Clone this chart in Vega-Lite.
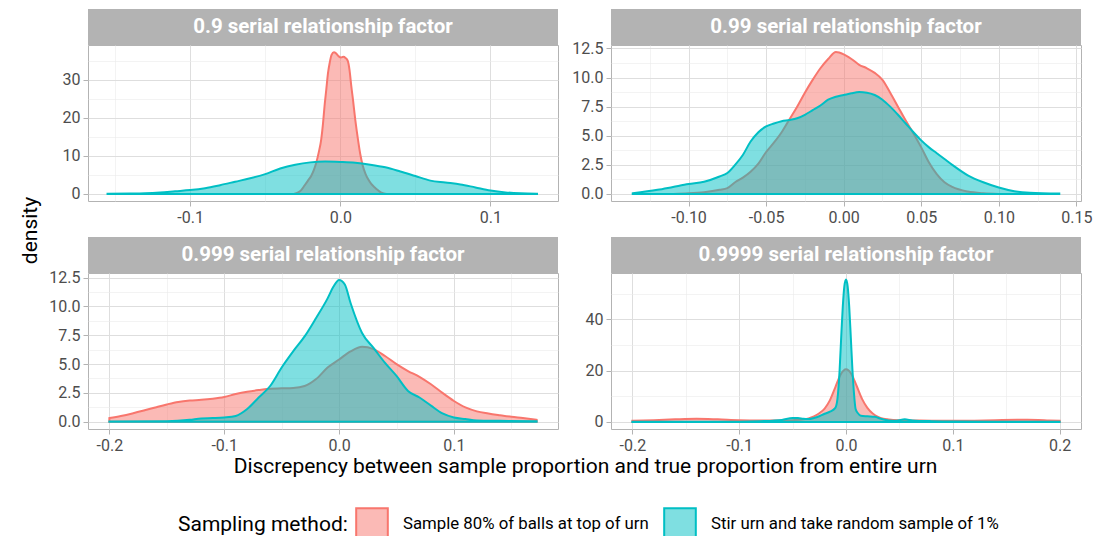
{
  "$schema": "https://vega.github.io/schema/vega-lite/v6.json",
  "padding": {"left": 18, "top": 9, "right": 0, "bottom": 0},
  "background": "white",
  "datasets": {
    "dens": [
      {"f":"0.9","m":"top","x":-0.031,"y":0},{"f":"0.9","m":"top","x":-0.028,"y":0.4},{"f":"0.9","m":"top","x":-0.026,"y":1.0},{"f":"0.9","m":"top","x":-0.0238,"y":2.2},{"f":"0.9","m":"top","x":-0.0215,"y":3.5},{"f":"0.9","m":"top","x":-0.0193,"y":4.8},{"f":"0.9","m":"top","x":-0.0175,"y":6.4},{"f":"0.9","m":"top","x":-0.016,"y":8.2},{"f":"0.9","m":"top","x":-0.0143,"y":11},{"f":"0.9","m":"top","x":-0.0127,"y":14.3},{"f":"0.9","m":"top","x":-0.0115,"y":18.5},{"f":"0.9","m":"top","x":-0.0105,"y":23},{"f":"0.9","m":"top","x":-0.0093,"y":27.5},{"f":"0.9","m":"top","x":-0.0082,"y":31.7},{"f":"0.9","m":"top","x":-0.007,"y":34.6},{"f":"0.9","m":"top","x":-0.0058,"y":36.6},{"f":"0.9","m":"top","x":-0.0042,"y":37.3},{"f":"0.9","m":"top","x":-0.0028,"y":37.0},{"f":"0.9","m":"top","x":-0.001,"y":36.2},{"f":"0.9","m":"top","x":0.0005,"y":35.9},{"f":"0.9","m":"top","x":0.002,"y":36.1},{"f":"0.9","m":"top","x":0.0035,"y":35.8},{"f":"0.9","m":"top","x":0.005,"y":35.0},{"f":"0.9","m":"top","x":0.0062,"y":32.5},{"f":"0.9","m":"top","x":0.0073,"y":28.5},{"f":"0.9","m":"top","x":0.0085,"y":24.7},{"f":"0.9","m":"top","x":0.01,"y":19.5},{"f":"0.9","m":"top","x":0.0118,"y":14.3},{"f":"0.9","m":"top","x":0.0133,"y":10.5},{"f":"0.9","m":"top","x":0.015,"y":7.4},{"f":"0.9","m":"top","x":0.0168,"y":5.3},{"f":"0.9","m":"top","x":0.0185,"y":3.9},{"f":"0.9","m":"top","x":0.0205,"y":2.7},{"f":"0.9","m":"top","x":0.023,"y":1.7},{"f":"0.9","m":"top","x":0.025,"y":1.0},{"f":"0.9","m":"top","x":0.027,"y":0.4},{"f":"0.9","m":"top","x":0.029,"y":0.1},{"f":"0.9","m":"top","x":0.031,"y":0},
      {"f":"0.9","m":"stir","x":-0.155,"y":0.02},{"f":"0.9","m":"stir","x":-0.14,"y":0.1},{"f":"0.9","m":"stir","x":-0.13,"y":0.2},{"f":"0.9","m":"stir","x":-0.12,"y":0.4},{"f":"0.9","m":"stir","x":-0.11,"y":0.7},{"f":"0.9","m":"stir","x":-0.1,"y":1.0},{"f":"0.9","m":"stir","x":-0.09,"y":1.5},{"f":"0.9","m":"stir","x":-0.08,"y":2.3},{"f":"0.9","m":"stir","x":-0.07,"y":3.2},{"f":"0.9","m":"stir","x":-0.06,"y":4.1},{"f":"0.9","m":"stir","x":-0.05,"y":5.2},{"f":"0.9","m":"stir","x":-0.04,"y":6.7},{"f":"0.9","m":"stir","x":-0.03,"y":7.7},{"f":"0.9","m":"stir","x":-0.02,"y":8.3},{"f":"0.9","m":"stir","x":-0.01,"y":8.5},{"f":"0.9","m":"stir","x":0,"y":8.4},{"f":"0.9","m":"stir","x":0.01,"y":8.2},{"f":"0.9","m":"stir","x":0.02,"y":7.7},{"f":"0.9","m":"stir","x":0.03,"y":7.0},{"f":"0.9","m":"stir","x":0.04,"y":5.9},{"f":"0.9","m":"stir","x":0.05,"y":4.7},{"f":"0.9","m":"stir","x":0.06,"y":3.5},{"f":"0.9","m":"stir","x":0.07,"y":3.0},{"f":"0.9","m":"stir","x":0.08,"y":2.5},{"f":"0.9","m":"stir","x":0.09,"y":1.7},{"f":"0.9","m":"stir","x":0.1,"y":0.9},{"f":"0.9","m":"stir","x":0.11,"y":0.4},{"f":"0.9","m":"stir","x":0.12,"y":0.15},{"f":"0.9","m":"stir","x":0.131,"y":0.05},
      {"f":"0.99","m":"top","x":-0.11,"y":0},{"f":"0.99","m":"top","x":-0.1,"y":0.05},{"f":"0.99","m":"top","x":-0.09,"y":0.15},{"f":"0.99","m":"top","x":-0.08,"y":0.35},{"f":"0.99","m":"top","x":-0.075,"y":0.5},{"f":"0.99","m":"top","x":-0.07,"y":1.0},{"f":"0.99","m":"top","x":-0.065,"y":1.4},{"f":"0.99","m":"top","x":-0.06,"y":1.9},{"f":"0.99","m":"top","x":-0.055,"y":2.6},{"f":"0.99","m":"top","x":-0.05,"y":3.6},{"f":"0.99","m":"top","x":-0.045,"y":4.4},{"f":"0.99","m":"top","x":-0.04,"y":5.3},{"f":"0.99","m":"top","x":-0.035,"y":6.4},{"f":"0.99","m":"top","x":-0.03,"y":7.5},{"f":"0.99","m":"top","x":-0.025,"y":8.7},{"f":"0.99","m":"top","x":-0.02,"y":9.8},{"f":"0.99","m":"top","x":-0.015,"y":10.8},{"f":"0.99","m":"top","x":-0.01,"y":11.6},{"f":"0.99","m":"top","x":-0.005,"y":12.2},{"f":"0.99","m":"top","x":0,"y":12.0},{"f":"0.99","m":"top","x":0.005,"y":11.6},{"f":"0.99","m":"top","x":0.01,"y":11.1},{"f":"0.99","m":"top","x":0.015,"y":10.8},{"f":"0.99","m":"top","x":0.02,"y":10.4},{"f":"0.99","m":"top","x":0.025,"y":9.8},{"f":"0.99","m":"top","x":0.03,"y":8.7},{"f":"0.99","m":"top","x":0.035,"y":7.5},{"f":"0.99","m":"top","x":0.04,"y":6.3},{"f":"0.99","m":"top","x":0.045,"y":5.2},{"f":"0.99","m":"top","x":0.05,"y":4.0},{"f":"0.99","m":"top","x":0.055,"y":2.7},{"f":"0.99","m":"top","x":0.06,"y":1.7},{"f":"0.99","m":"top","x":0.065,"y":1.0},{"f":"0.99","m":"top","x":0.07,"y":0.6},{"f":"0.99","m":"top","x":0.08,"y":0.2},{"f":"0.99","m":"top","x":0.09,"y":0.05},{"f":"0.99","m":"top","x":0.1,"y":0},
      {"f":"0.99","m":"stir","x":-0.136,"y":0.05},{"f":"0.99","m":"stir","x":-0.12,"y":0.35},{"f":"0.99","m":"stir","x":-0.11,"y":0.6},{"f":"0.99","m":"stir","x":-0.1,"y":0.85},{"f":"0.99","m":"stir","x":-0.09,"y":1.05},{"f":"0.99","m":"stir","x":-0.08,"y":1.5},{"f":"0.99","m":"stir","x":-0.075,"y":1.8},{"f":"0.99","m":"stir","x":-0.07,"y":2.5},{"f":"0.99","m":"stir","x":-0.065,"y":3.35},{"f":"0.99","m":"stir","x":-0.06,"y":4.5},{"f":"0.99","m":"stir","x":-0.055,"y":5.3},{"f":"0.99","m":"stir","x":-0.05,"y":5.8},{"f":"0.99","m":"stir","x":-0.045,"y":6.05},{"f":"0.99","m":"stir","x":-0.04,"y":6.25},{"f":"0.99","m":"stir","x":-0.035,"y":6.35},{"f":"0.99","m":"stir","x":-0.03,"y":6.5},{"f":"0.99","m":"stir","x":-0.025,"y":6.8},{"f":"0.99","m":"stir","x":-0.02,"y":7.2},{"f":"0.99","m":"stir","x":-0.015,"y":7.6},{"f":"0.99","m":"stir","x":-0.01,"y":8.1},{"f":"0.99","m":"stir","x":-0.005,"y":8.35},{"f":"0.99","m":"stir","x":0,"y":8.5},{"f":"0.99","m":"stir","x":0.005,"y":8.65},{"f":"0.99","m":"stir","x":0.01,"y":8.75},{"f":"0.99","m":"stir","x":0.015,"y":8.7},{"f":"0.99","m":"stir","x":0.02,"y":8.5},{"f":"0.99","m":"stir","x":0.025,"y":8.1},{"f":"0.99","m":"stir","x":0.03,"y":7.5},{"f":"0.99","m":"stir","x":0.035,"y":6.8},{"f":"0.99","m":"stir","x":0.04,"y":6.05},{"f":"0.99","m":"stir","x":0.045,"y":5.3},{"f":"0.99","m":"stir","x":0.05,"y":4.6},{"f":"0.99","m":"stir","x":0.055,"y":4.0},{"f":"0.99","m":"stir","x":0.06,"y":3.5},{"f":"0.99","m":"stir","x":0.065,"y":3.0},{"f":"0.99","m":"stir","x":0.07,"y":2.5},{"f":"0.99","m":"stir","x":0.08,"y":1.6},{"f":"0.99","m":"stir","x":0.09,"y":1.0},{"f":"0.99","m":"stir","x":0.1,"y":0.55},{"f":"0.99","m":"stir","x":0.11,"y":0.23},{"f":"0.99","m":"stir","x":0.12,"y":0.1},{"f":"0.99","m":"stir","x":0.139,"y":0.03},
      {"f":"0.999","m":"top","x":-0.2,"y":0.32},{"f":"0.999","m":"top","x":-0.19,"y":0.5},{"f":"0.999","m":"top","x":-0.18,"y":0.72},{"f":"0.999","m":"top","x":-0.17,"y":0.97},{"f":"0.999","m":"top","x":-0.16,"y":1.24},{"f":"0.999","m":"top","x":-0.15,"y":1.5},{"f":"0.999","m":"top","x":-0.14,"y":1.72},{"f":"0.999","m":"top","x":-0.13,"y":1.84},{"f":"0.999","m":"top","x":-0.12,"y":1.9},{"f":"0.999","m":"top","x":-0.11,"y":2.0},{"f":"0.999","m":"top","x":-0.1,"y":2.15},{"f":"0.999","m":"top","x":-0.09,"y":2.4},{"f":"0.999","m":"top","x":-0.08,"y":2.6},{"f":"0.999","m":"top","x":-0.07,"y":2.75},{"f":"0.999","m":"top","x":-0.06,"y":2.87},{"f":"0.999","m":"top","x":-0.05,"y":2.9},{"f":"0.999","m":"top","x":-0.04,"y":2.93},{"f":"0.999","m":"top","x":-0.03,"y":3.1},{"f":"0.999","m":"top","x":-0.02,"y":3.7},{"f":"0.999","m":"top","x":-0.01,"y":4.7},{"f":"0.999","m":"top","x":0,"y":5.4},{"f":"0.999","m":"top","x":0.01,"y":6.1},{"f":"0.999","m":"top","x":0.02,"y":6.5},{"f":"0.999","m":"top","x":0.03,"y":6.3},{"f":"0.999","m":"top","x":0.04,"y":5.7},{"f":"0.999","m":"top","x":0.05,"y":5.0},{"f":"0.999","m":"top","x":0.06,"y":4.4},{"f":"0.999","m":"top","x":0.07,"y":3.9},{"f":"0.999","m":"top","x":0.08,"y":3.25},{"f":"0.999","m":"top","x":0.09,"y":2.5},{"f":"0.999","m":"top","x":0.1,"y":1.8},{"f":"0.999","m":"top","x":0.11,"y":1.24},{"f":"0.999","m":"top","x":0.12,"y":0.9},{"f":"0.999","m":"top","x":0.13,"y":0.72},{"f":"0.999","m":"top","x":0.14,"y":0.57},{"f":"0.999","m":"top","x":0.15,"y":0.43},{"f":"0.999","m":"top","x":0.16,"y":0.32},{"f":"0.999","m":"top","x":0.172,"y":0.17},
      {"f":"0.999","m":"stir","x":-0.2,"y":0.02},{"f":"0.999","m":"stir","x":-0.15,"y":0.05},{"f":"0.999","m":"stir","x":-0.13,"y":0.17},{"f":"0.999","m":"stir","x":-0.12,"y":0.29},{"f":"0.999","m":"stir","x":-0.11,"y":0.32},{"f":"0.999","m":"stir","x":-0.1,"y":0.37},{"f":"0.999","m":"stir","x":-0.09,"y":0.5},{"f":"0.999","m":"stir","x":-0.08,"y":1.1},{"f":"0.999","m":"stir","x":-0.07,"y":2.1},{"f":"0.999","m":"stir","x":-0.06,"y":3.1},{"f":"0.999","m":"stir","x":-0.05,"y":4.7},{"f":"0.999","m":"stir","x":-0.04,"y":6.1},{"f":"0.999","m":"stir","x":-0.03,"y":7.4},{"f":"0.999","m":"stir","x":-0.02,"y":9.0},{"f":"0.999","m":"stir","x":-0.01,"y":10.7},{"f":"0.999","m":"stir","x":-0.005,"y":11.7},{"f":"0.999","m":"stir","x":0,"y":12.3},{"f":"0.999","m":"stir","x":0.005,"y":11.9},{"f":"0.999","m":"stir","x":0.01,"y":10.3},{"f":"0.999","m":"stir","x":0.02,"y":7.7},{"f":"0.999","m":"stir","x":0.03,"y":6.4},{"f":"0.999","m":"stir","x":0.04,"y":5.1},{"f":"0.999","m":"stir","x":0.05,"y":3.97},{"f":"0.999","m":"stir","x":0.06,"y":2.67},{"f":"0.999","m":"stir","x":0.07,"y":2.1},{"f":"0.999","m":"stir","x":0.08,"y":1.4},{"f":"0.999","m":"stir","x":0.09,"y":0.72},{"f":"0.999","m":"stir","x":0.1,"y":0.37},{"f":"0.999","m":"stir","x":0.11,"y":0.23},{"f":"0.999","m":"stir","x":0.12,"y":0.11},{"f":"0.999","m":"stir","x":0.14,"y":0.08},{"f":"0.999","m":"stir","x":0.172,"y":0.05},
      {"f":"0.9999","m":"top","x":-0.2,"y":0.5},{"f":"0.9999","m":"top","x":-0.18,"y":0.7},{"f":"0.9999","m":"top","x":-0.16,"y":1.0},{"f":"0.9999","m":"top","x":-0.14,"y":1.2},{"f":"0.9999","m":"top","x":-0.12,"y":1.0},{"f":"0.9999","m":"top","x":-0.1,"y":0.7},{"f":"0.9999","m":"top","x":-0.08,"y":0.6},{"f":"0.9999","m":"top","x":-0.06,"y":0.6},{"f":"0.9999","m":"top","x":-0.05,"y":0.7},{"f":"0.9999","m":"top","x":-0.04,"y":1.0},{"f":"0.9999","m":"top","x":-0.035,"y":1.4},{"f":"0.9999","m":"top","x":-0.03,"y":2.2},{"f":"0.9999","m":"top","x":-0.025,"y":3.4},{"f":"0.9999","m":"top","x":-0.02,"y":5.2},{"f":"0.9999","m":"top","x":-0.015,"y":8.5},{"f":"0.9999","m":"top","x":-0.01,"y":13.5},{"f":"0.9999","m":"top","x":-0.005,"y":18.5},{"f":"0.9999","m":"top","x":0,"y":20.5},{"f":"0.9999","m":"top","x":0.005,"y":18.7},{"f":"0.9999","m":"top","x":0.01,"y":14},{"f":"0.9999","m":"top","x":0.015,"y":9.0},{"f":"0.9999","m":"top","x":0.02,"y":5.5},{"f":"0.9999","m":"top","x":0.025,"y":3.3},{"f":"0.9999","m":"top","x":0.03,"y":2.0},{"f":"0.9999","m":"top","x":0.035,"y":1.3},{"f":"0.9999","m":"top","x":0.04,"y":1.0},{"f":"0.9999","m":"top","x":0.05,"y":0.7},{"f":"0.9999","m":"top","x":0.06,"y":0.6},{"f":"0.9999","m":"top","x":0.08,"y":0.5},{"f":"0.9999","m":"top","x":0.1,"y":0.45},{"f":"0.9999","m":"top","x":0.12,"y":0.5},{"f":"0.9999","m":"top","x":0.14,"y":0.65},{"f":"0.9999","m":"top","x":0.16,"y":0.85},{"f":"0.9999","m":"top","x":0.17,"y":0.9},{"f":"0.9999","m":"top","x":0.18,"y":0.8},{"f":"0.9999","m":"top","x":0.19,"y":0.6},{"f":"0.9999","m":"top","x":0.2,"y":0.45},
      {"f":"0.9999","m":"stir","x":-0.2,"y":0.05},{"f":"0.9999","m":"stir","x":-0.15,"y":0.05},{"f":"0.9999","m":"stir","x":-0.1,"y":0.1},{"f":"0.9999","m":"stir","x":-0.08,"y":0.3},{"f":"0.9999","m":"stir","x":-0.06,"y":0.8},{"f":"0.9999","m":"stir","x":-0.05,"y":1.5},{"f":"0.9999","m":"stir","x":-0.045,"y":1.5},{"f":"0.9999","m":"stir","x":-0.04,"y":1.2},{"f":"0.9999","m":"stir","x":-0.035,"y":1.1},{"f":"0.9999","m":"stir","x":-0.03,"y":1.5},{"f":"0.9999","m":"stir","x":-0.025,"y":2.2},{"f":"0.9999","m":"stir","x":-0.02,"y":3.2},{"f":"0.9999","m":"stir","x":-0.015,"y":4.0},{"f":"0.9999","m":"stir","x":-0.01,"y":5.5},{"f":"0.9999","m":"stir","x":-0.008,"y":9},{"f":"0.9999","m":"stir","x":-0.006,"y":20},{"f":"0.9999","m":"stir","x":-0.0045,"y":33},{"f":"0.9999","m":"stir","x":-0.003,"y":45},{"f":"0.9999","m":"stir","x":-0.0015,"y":53},{"f":"0.9999","m":"stir","x":0,"y":55.5},{"f":"0.9999","m":"stir","x":0.0015,"y":53},{"f":"0.9999","m":"stir","x":0.003,"y":45},{"f":"0.9999","m":"stir","x":0.0045,"y":33},{"f":"0.9999","m":"stir","x":0.006,"y":20.5},{"f":"0.9999","m":"stir","x":0.0075,"y":11},{"f":"0.9999","m":"stir","x":0.009,"y":5},{"f":"0.9999","m":"stir","x":0.011,"y":3.5},{"f":"0.9999","m":"stir","x":0.014,"y":2.4},{"f":"0.9999","m":"stir","x":0.02,"y":2.2},{"f":"0.9999","m":"stir","x":0.027,"y":2.0},{"f":"0.9999","m":"stir","x":0.033,"y":1.2},{"f":"0.9999","m":"stir","x":0.04,"y":0.6},{"f":"0.9999","m":"stir","x":0.047,"y":0.5},{"f":"0.9999","m":"stir","x":0.055,"y":1.0},{"f":"0.9999","m":"stir","x":0.062,"y":0.6},{"f":"0.9999","m":"stir","x":0.08,"y":0.3},{"f":"0.9999","m":"stir","x":0.1,"y":0.2},{"f":"0.9999","m":"stir","x":0.15,"y":0.1},{"f":"0.9999","m":"stir","x":0.2,"y":0.05}
    ]
  },
  "config": {
    "font": "Roboto",
    "view": {"stroke": "#B3B3B3", "strokeWidth": 1},
    "axis": {"domain": false, "labelFont": "Roboto", "labelFontSize": 16, "labelColor": "#4D4D4D", "tickSize": 5, "tickColor": "#B3B3B3", "labelPadding": 3, "titleFont": "Roboto", "titleFontSize": 21, "titleFontWeight": "normal", "titleColor": "#000000"},
    "legend": {"orient": "none", "legendX": 90, "legendY": 498, "direction": "horizontal", "titleOrient": "left", "titleAnchor": "middle", "titleBaseline": "middle", "titleFont": "Roboto", "titleFontSize": 21, "titleFontWeight": "normal", "titleColor": "#000000", "labelFont": "Roboto", "labelFontSize": 16.8, "labelColor": "#000000", "labelLimit": 0, "symbolType": "square", "symbolSize": 1000, "symbolStrokeWidth": 2, "labelOffset": 14, "columnPadding": 11, "titlePadding": 7}
  },
  "bounds": "flush",
  "columns": 2,
  "spacing": {"row": 0, "column": 53},
  "concat": [
    {"width": 470, "height": 36, "data": {"values": [{"label": "0.9 serial relationship factor"}]}, "mark": {"type": "text", "color": "white", "fontWeight": "bold", "fontSize": 20.5, "font": "Roboto"}, "encoding": {"text": {"field": "label"}}, "view": {"fill": "#B3B3B3", "stroke": null}},
    {"width": 470, "height": 36, "data": {"values": [{"label": "0.99 serial relationship factor"}]}, "mark": {"type": "text", "color": "white", "fontWeight": "bold", "fontSize": 20.5, "font": "Roboto"}, "encoding": {"text": {"field": "label"}}, "view": {"fill": "#B3B3B3", "stroke": null}},
    {
      "width": 470, "height": 156,
      "data": {"name": "dens"},
      "transform": [{"filter": "datum.f == '0.9'"}],
      "encoding": {
        "x": {"field": "x", "type": "quantitative", "scale": {"domain": [-0.168, 0.145], "nice": false, "zero": false},
          "axis": {"title": null, "values": [-0.15,-0.1,-0.05,0,0.05,0.1],
            "labelExpr": "indexof([-0.15,-0.05,0.05], datum.value) >= 0 ? '' : replace(format(datum.value, '.1f'), '\u2212', '-')",
            "gridColor": {"condition": {"test": "indexof([-0.15,-0.05,0.05], datum.value) >= 0", "value": "#EBEBEB"}, "value": "#DEDEDE"},
            "gridWidth": {"condition": {"test": "indexof([-0.15,-0.05,0.05], datum.value) >= 0", "value": 0.6}, "value": 1},
            "tickOpacity": {"condition": {"test": "indexof([-0.15,-0.05,0.05], datum.value) >= 0", "value": 0}, "value": 1}}},
        "y": {"field": "y", "type": "quantitative", "stack": null, "scale": {"domain": [-1.87, 39.2], "nice": false, "zero": false},
          "axis": {"title": "density", "titleX": -48, "titleY": 185, "titleAlign": "center", "values": [0,5,10,15,20,25,30,35],
            "labelExpr": "indexof([5,15,25,35], datum.value) >= 0 ? '' : format(datum.value, 'd')",
            "gridColor": {"condition": {"test": "indexof([5,15,25,35], datum.value) >= 0", "value": "#EBEBEB"}, "value": "#DEDEDE"},
            "gridWidth": {"condition": {"test": "indexof([5,15,25,35], datum.value) >= 0", "value": 0.6}, "value": 1},
            "tickOpacity": {"condition": {"test": "indexof([5,15,25,35], datum.value) >= 0", "value": 0}, "value": 1}}},
        "fill": {"field": "m", "type": "nominal", "scale": {"domain": ["top", "stir"], "range": ["#F8766D", "#00BFC4"]}, "legend": {"title": "Sampling method:", "labelExpr": "datum.value == 'top' ? 'Sample 80% of balls at top of urn' : 'Stir urn and take random sample of 1%'", "encode": {"symbols": {"update": {"fillOpacity": {"value": 0.5}}}}}},
        "stroke": {"field": "m", "type": "nominal", "scale": {"domain": ["top", "stir"], "range": ["#F8766D", "#00BFC4"]}, "legend": {"title": "Sampling method:", "labelExpr": "datum.value == 'top' ? 'Sample 80% of balls at top of urn' : 'Stir urn and take random sample of 1%'", "encode": {"symbols": {"update": {"fillOpacity": {"value": 0.5}}}}}}
      },
      "layer": [
        {"transform": [{"filter": "datum.m == 'top'"}], "mark": {"type": "area", "fillOpacity": 0.5, "strokeWidth": 2, "interpolate": "monotone"}},
        {"transform": [{"filter": "datum.m == 'stir'"}], "mark": {"type": "area", "fillOpacity": 0.5, "strokeWidth": 2, "interpolate": "monotone"}}
      ]
    },
    {
      "width": 470, "height": 156,
      "data": {"name": "dens"},
      "transform": [{"filter": "datum.f == '0.99'"}],
      "encoding": {
        "x": {"field": "x", "type": "quantitative", "scale": {"domain": [-0.150, 0.153], "nice": false, "zero": false},
          "axis": {"title": null, "values": [-0.125,-0.1,-0.075,-0.05,-0.025,0,0.025,0.05,0.075,0.1,0.125,0.15],
            "labelExpr": "indexof([-0.125,-0.075,-0.025,0.025,0.075,0.125], datum.value) >= 0 ? '' : replace(format(datum.value, '.2f'), '\u2212', '-')",
            "gridColor": {"condition": {"test": "indexof([-0.125,-0.075,-0.025,0.025,0.075,0.125], datum.value) >= 0", "value": "#EBEBEB"}, "value": "#DEDEDE"},
            "gridWidth": {"condition": {"test": "indexof([-0.125,-0.075,-0.025,0.025,0.075,0.125], datum.value) >= 0", "value": 0.6}, "value": 1},
            "tickOpacity": {"condition": {"test": "indexof([-0.125,-0.075,-0.025,0.025,0.075,0.125], datum.value) >= 0", "value": 0}, "value": 1}}},
        "y": {"field": "y", "type": "quantitative", "stack": null, "scale": {"domain": [-0.61, 12.8], "nice": false, "zero": false},
          "axis": {"title": null, "values": [0,1.25,2.5,3.75,5,6.25,7.5,8.75,10,11.25,12.5],
            "labelExpr": "indexof([1.25,3.75,6.25,8.75,11.25], datum.value) >= 0 ? '' : format(datum.value, '.1f')",
            "gridColor": {"condition": {"test": "indexof([1.25,3.75,6.25,8.75,11.25], datum.value) >= 0", "value": "#EBEBEB"}, "value": "#DEDEDE"},
            "gridWidth": {"condition": {"test": "indexof([1.25,3.75,6.25,8.75,11.25], datum.value) >= 0", "value": 0.6}, "value": 1},
            "tickOpacity": {"condition": {"test": "indexof([1.25,3.75,6.25,8.75,11.25], datum.value) >= 0", "value": 0}, "value": 1}}},
        "fill": {"field": "m", "type": "nominal", "scale": {"domain": ["top", "stir"], "range": ["#F8766D", "#00BFC4"]}, "legend": {"title": "Sampling method:", "labelExpr": "datum.value == 'top' ? 'Sample 80% of balls at top of urn' : 'Stir urn and take random sample of 1%'", "encode": {"symbols": {"update": {"fillOpacity": {"value": 0.5}}}}}},
        "stroke": {"field": "m", "type": "nominal", "scale": {"domain": ["top", "stir"], "range": ["#F8766D", "#00BFC4"]}, "legend": {"title": "Sampling method:", "labelExpr": "datum.value == 'top' ? 'Sample 80% of balls at top of urn' : 'Stir urn and take random sample of 1%'", "encode": {"symbols": {"update": {"fillOpacity": {"value": 0.5}}}}}}
      },
      "layer": [
        {"transform": [{"filter": "datum.m == 'top'"}], "mark": {"type": "area", "fillOpacity": 0.5, "strokeWidth": 2, "interpolate": "monotone"}},
        {"transform": [{"filter": "datum.m == 'stir'"}], "mark": {"type": "area", "fillOpacity": 0.5, "strokeWidth": 2, "interpolate": "monotone"}}
      ]
    },
    {"width": 470, "height": 36, "data": {"values": []}, "mark": {"type": "text", "text": ""}, "encoding": {}, "view": {"stroke": null}},
    {"width": 470, "height": 36, "data": {"values": []}, "mark": {"type": "text", "text": ""}, "encoding": {}, "view": {"stroke": null}},
    {"width": 470, "height": 36, "data": {"values": [{"label": "0.999 serial relationship factor"}]}, "mark": {"type": "text", "color": "white", "fontWeight": "bold", "fontSize": 20.5, "font": "Roboto"}, "encoding": {"text": {"field": "label"}}, "view": {"fill": "#B3B3B3", "stroke": null}},
    {"width": 470, "height": 36, "data": {"values": [{"label": "0.9999 serial relationship factor"}]}, "mark": {"type": "text", "color": "white", "fontWeight": "bold", "fontSize": 20.5, "font": "Roboto"}, "encoding": {"text": {"field": "label"}}, "view": {"fill": "#B3B3B3", "stroke": null}},
    {
      "width": 470, "height": 156,
      "data": {"name": "dens"},
      "transform": [{"filter": "datum.f == '0.999'"}],
      "encoding": {
        "x": {"field": "x", "type": "quantitative", "scale": {"domain": [-0.2186, 0.1906], "nice": false, "zero": false},
          "axis": {"title": "Discrepency between sample proportion and true proportion from entire urn", "titleX": 497, "titleY": 26, "titleAlign": "center", "titleBaseline": "top", "values": [-0.2,-0.15,-0.1,-0.05,0,0.05,0.1,0.15],
            "labelExpr": "indexof([-0.15,-0.05,0.05,0.15], datum.value) >= 0 ? '' : replace(format(datum.value, '.1f'), '\u2212', '-')",
            "gridColor": {"condition": {"test": "indexof([-0.15,-0.05,0.05,0.15], datum.value) >= 0", "value": "#EBEBEB"}, "value": "#DEDEDE"},
            "gridWidth": {"condition": {"test": "indexof([-0.15,-0.05,0.05,0.15], datum.value) >= 0", "value": 0.6}, "value": 1},
            "tickOpacity": {"condition": {"test": "indexof([-0.15,-0.05,0.05,0.15], datum.value) >= 0", "value": 0}, "value": 1}}},
        "y": {"field": "y", "type": "quantitative", "stack": null, "scale": {"domain": [-0.63, 12.9], "nice": false, "zero": false},
          "axis": {"title": null, "values": [0,1.25,2.5,3.75,5,6.25,7.5,8.75,10,11.25,12.5],
            "labelExpr": "indexof([1.25,3.75,6.25,8.75,11.25], datum.value) >= 0 ? '' : format(datum.value, '.1f')",
            "gridColor": {"condition": {"test": "indexof([1.25,3.75,6.25,8.75,11.25], datum.value) >= 0", "value": "#EBEBEB"}, "value": "#DEDEDE"},
            "gridWidth": {"condition": {"test": "indexof([1.25,3.75,6.25,8.75,11.25], datum.value) >= 0", "value": 0.6}, "value": 1},
            "tickOpacity": {"condition": {"test": "indexof([1.25,3.75,6.25,8.75,11.25], datum.value) >= 0", "value": 0}, "value": 1}}},
        "fill": {"field": "m", "type": "nominal", "scale": {"domain": ["top", "stir"], "range": ["#F8766D", "#00BFC4"]}, "legend": {"title": "Sampling method:", "labelExpr": "datum.value == 'top' ? 'Sample 80% of balls at top of urn' : 'Stir urn and take random sample of 1%'", "encode": {"symbols": {"update": {"fillOpacity": {"value": 0.5}}}}}},
        "stroke": {"field": "m", "type": "nominal", "scale": {"domain": ["top", "stir"], "range": ["#F8766D", "#00BFC4"]}, "legend": {"title": "Sampling method:", "labelExpr": "datum.value == 'top' ? 'Sample 80% of balls at top of urn' : 'Stir urn and take random sample of 1%'", "encode": {"symbols": {"update": {"fillOpacity": {"value": 0.5}}}}}}
      },
      "layer": [
        {"transform": [{"filter": "datum.m == 'top'"}], "mark": {"type": "area", "fillOpacity": 0.5, "strokeWidth": 2, "interpolate": "monotone"}},
        {"transform": [{"filter": "datum.m == 'stir'"}], "mark": {"type": "area", "fillOpacity": 0.5, "strokeWidth": 2, "interpolate": "monotone"}}
      ]
    },
    {
      "width": 470, "height": 156,
      "data": {"name": "dens"},
      "transform": [{"filter": "datum.f == '0.9999'"}],
      "encoding": {
        "x": {"field": "x", "type": "quantitative", "scale": {"domain": [-0.22, 0.22], "nice": false, "zero": false},
          "axis": {"title": null, "values": [-0.2,-0.15,-0.1,-0.05,0,0.05,0.1,0.15,0.2],
            "labelExpr": "indexof([-0.15,-0.05,0.05,0.15], datum.value) >= 0 ? '' : replace(format(datum.value, '.1f'), '\u2212', '-')",
            "gridColor": {"condition": {"test": "indexof([-0.15,-0.05,0.05,0.15], datum.value) >= 0", "value": "#EBEBEB"}, "value": "#DEDEDE"},
            "gridWidth": {"condition": {"test": "indexof([-0.15,-0.05,0.05,0.15], datum.value) >= 0", "value": 0.6}, "value": 1},
            "tickOpacity": {"condition": {"test": "indexof([-0.15,-0.05,0.05,0.15], datum.value) >= 0", "value": 0}, "value": 1}}},
        "y": {"field": "y", "type": "quantitative", "stack": null, "scale": {"domain": [-2.75, 58.0], "nice": false, "zero": false},
          "axis": {"title": null, "values": [0,10,20,30,40,50],
            "labelExpr": "indexof([10,30,50], datum.value) >= 0 ? '' : format(datum.value, 'd')",
            "gridColor": {"condition": {"test": "indexof([10,30,50], datum.value) >= 0", "value": "#EBEBEB"}, "value": "#DEDEDE"},
            "gridWidth": {"condition": {"test": "indexof([10,30,50], datum.value) >= 0", "value": 0.6}, "value": 1},
            "tickOpacity": {"condition": {"test": "indexof([10,30,50], datum.value) >= 0", "value": 0}, "value": 1}}},
        "fill": {"field": "m", "type": "nominal", "scale": {"domain": ["top", "stir"], "range": ["#F8766D", "#00BFC4"]}, "legend": {"title": "Sampling method:", "labelExpr": "datum.value == 'top' ? 'Sample 80% of balls at top of urn' : 'Stir urn and take random sample of 1%'", "encode": {"symbols": {"update": {"fillOpacity": {"value": 0.5}}}}}},
        "stroke": {"field": "m", "type": "nominal", "scale": {"domain": ["top", "stir"], "range": ["#F8766D", "#00BFC4"]}, "legend": {"title": "Sampling method:", "labelExpr": "datum.value == 'top' ? 'Sample 80% of balls at top of urn' : 'Stir urn and take random sample of 1%'", "encode": {"symbols": {"update": {"fillOpacity": {"value": 0.5}}}}}}
      },
      "layer": [
        {"transform": [{"filter": "datum.m == 'top'"}], "mark": {"type": "area", "fillOpacity": 0.5, "strokeWidth": 2, "interpolate": "monotone"}},
        {"transform": [{"filter": "datum.m == 'stir'"}], "mark": {"type": "area", "fillOpacity": 0.5, "strokeWidth": 2, "interpolate": "monotone"}}
      ]
    }
  ]
}
